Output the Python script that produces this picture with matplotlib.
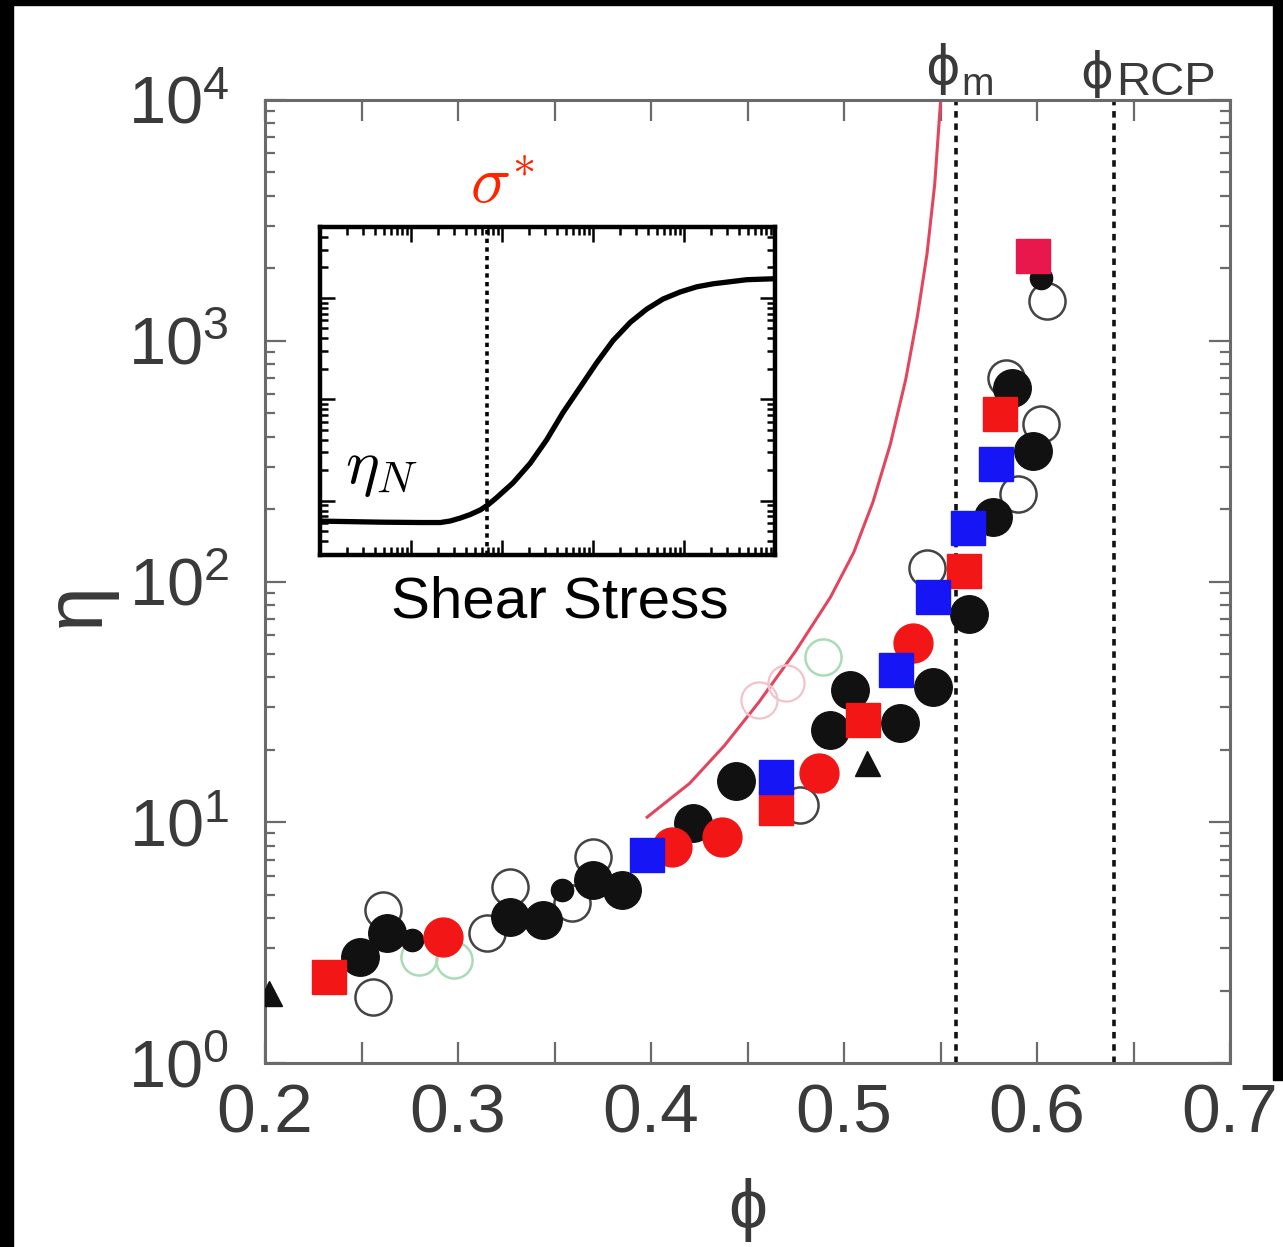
import matplotlib
matplotlib.use('Agg')
import matplotlib.pyplot as plt
from matplotlib.patches import Rectangle
from matplotlib.ticker import MultipleLocator, LogLocator, NullFormatter, FixedLocator
from matplotlib.transforms import blended_transform_factory, offset_copy

plt.rcParams['font.family'] = ['Liberation Sans', 'DejaVu Sans']
plt.rcParams['mathtext.fontset'] = 'custom'
plt.rcParams['mathtext.rm'] = 'Liberation Sans'
plt.rcParams['mathtext.it'] = 'Liberation Sans:italic'
plt.rcParams['mathtext.bf'] = 'Liberation Sans:bold'

# ---------------- data ----------------
phi_m = 0.558
phi_rcp = 0.640

black_phi = [0.249, 0.263, 0.327, 0.344, 0.370, 0.385, 0.422, 0.444, 0.493,
             0.529, 0.503, 0.546, 0.565, 0.577, 0.598, 0.587]
black_eta = [2.75, 3.46, 4.04, 3.92, 5.74, 5.22, 9.91, 14.9, 24.1,
             25.8, 35.3, 36.3, 73.6, 184.5, 350, 638]

small_black_phi = [0.276, 0.354, 0.602]
small_black_eta = [3.24, 5.22, 1824]

tri_phi = [0.202, 0.512]
tri_eta = [1.95, 17.6]

red_circ_phi = [0.292, 0.411, 0.437, 0.487, 0.536]
red_circ_eta = [3.33, 7.87, 8.67, 15.96, 55.3]

red_sq_phi = [0.233, 0.465, 0.510, 0.562, 0.581]
red_sq_eta = [2.28, 11.5, 26.5, 111, 498]

top_sq_phi = [0.598]
top_sq_eta = [2254]

blue_phi = [0.398, 0.465, 0.527, 0.546, 0.564, 0.579]
blue_eta = [7.29, 15.4, 42.8, 85.9, 167.5, 309]

open_phi = [0.256, 0.261, 0.315, 0.327, 0.359, 0.370, 0.477, 0.543,
            0.590, 0.602, 0.584, 0.605]
open_eta = [1.88, 4.32, 3.46, 5.37, 4.61, 7.16, 11.8, 114,
            232, 453, 701, 1466]

faint_pink_phi = [0.456, 0.470]
faint_pink_eta = [32.1, 38.0]
faint_green_phi = [0.280, 0.298, 0.489]
faint_green_eta = [2.75, 2.67, 48.4]

curve_phi = [0.398, 0.420, 0.438, 0.456, 0.475, 0.493, 0.505, 0.515,
             0.524, 0.532, 0.538, 0.543, 0.547, 0.550]
curve_eta = [10.5, 14.5, 20.8, 31.6, 51.5, 86.1, 131.8, 213.8,
             371.5, 691.8, 1259, 2291, 4467, 9772]

# inset: schematic flow curve
inset_stress = [1, 4.6, 12.6, 21, 26.9, 35, 44.7, 58, 70.8, 87, 132, 204,
                309, 468, 724, 1096, 1660, 2570, 3890, 5890, 9120, 13800,
                20900, 49000, 100000]
inset_eta = [6.3, 6.15, 6.1, 6.1, 6.31, 6.76, 7.31, 8.13, 9.18, 10.7, 15.0,
             23.4, 39.8, 74.1, 132, 229, 380, 575, 776, 977, 1148, 1288,
             1380, 1514, 1549]
sigma_star = 69

xticks = [0.2, 0.3, 0.4, 0.5, 0.6, 0.7]
yticks = [1, 10, 100, 1000, 10000]
ytick_labels = [r'$10^{0}$', r'$10^{1}$', r'$10^{2}$', r'$10^{3}$', r'$10^{4}$']

# ---------------- figure ----------------
W, H = 1283, 1247
fig = plt.figure(figsize=(W / 100, H / 100), dpi=100, facecolor='white')


def fx(px):
    return px / W


def fy(py):
    return 1 - py / H


tick_col = '#3a3a3a'
spine_col = '#6a6a6a'

ax = fig.add_axes([fx(265), fy(1063), (1230 - 265) / W, (1063 - 100) / H])
ax.set_zorder(1)
ax.set_xlim(0.2, 0.7)
ax.set_yscale('log')
ax.set_ylim(1, 1e4)
for s in ax.spines.values():
    s.set_color(spine_col)
    s.set_linewidth(2.2)

ax.xaxis.set_major_locator(FixedLocator(xticks))
ax.xaxis.set_minor_locator(MultipleLocator(0.05))
ax.set_xticklabels([f'{v:.1f}' for v in xticks])
ax.yaxis.set_major_locator(FixedLocator(yticks))
ax.set_yticklabels(ytick_labels)
ax.yaxis.set_minor_locator(LogLocator(base=10, subs=range(2, 10)))
ax.yaxis.set_minor_formatter(NullFormatter())

ax.tick_params(which='both', direction='in', top=True, right=True,
               color=spine_col, width=1.6)
ax.tick_params(axis='x', which='both', length=15, labelsize=50,
               labelcolor=tick_col, pad=14)
ax.tick_params(axis='y', which='major', length=15, labelsize=48,
               labelcolor=tick_col, pad=26)
ax.tick_params(axis='y', which='minor', length=7)

ax.set_xlabel('ϕ', fontsize=50, color=tick_col)
ax.xaxis.label.set_va('center')
ax.xaxis.set_label_coords(0.5, (1063 - 1210) / 963)
ax.set_ylabel('η', fontsize=58, color=tick_col)
ax.yaxis.label.set_va('center')
ax.yaxis.set_label_coords((78 - 265) / 965, (1063 - 605) / 963)

# vertical dotted lines
for v in (phi_m, phi_rcp):
    ax.axvline(v, color='#111111', lw=2.6, dashes=(1.8, 1.6), zorder=2)

# red model curve
ax.plot(curve_phi, curve_eta, color='#e3455e', lw=2.2, zorder=2)

# faint ghost symbols
ax.plot(faint_pink_phi, faint_pink_eta, 'o', ms=26, mfc='none',
        mec='#f3c3ca', mew=1.6, zorder=2)
ax.plot(faint_green_phi, faint_green_eta, 'o', ms=26, mfc='none',
        mec='#a9dcb6', mew=1.8, zorder=2)

# data symbols
ax.plot(open_phi, open_eta, 'o', ms=26, mfc='white', mec='#444444',
        mew=1.8, zorder=3)
ax.plot(black_phi, black_eta, 'o', ms=27, mfc='#111111', mec='#111111',
        mew=1, zorder=4)
ax.plot(small_black_phi, small_black_eta, 'o', ms=16, mfc='#111111',
        mec='#111111', zorder=4)
ax.plot(tri_phi, tri_eta, '^', ms=18, mfc='#111111', mec='#111111', zorder=4)
ax.plot(red_circ_phi, red_circ_eta, 'o', ms=28, mfc='#f21616', mec='#f21616',
        zorder=5)
ax.plot(red_sq_phi, red_sq_eta, 's', ms=25, mfc='#f21616', mec='#f21616',
        zorder=5)
ax.plot(top_sq_phi, top_sq_eta, 's', ms=24, mfc='#e8174c', mec='#e8174c',
        zorder=5)
ax.plot(blue_phi, blue_eta, 's', ms=25, mfc='#1515f5', mec='#1515f5',
        zorder=6)

# labels above the axes
tr = blended_transform_factory(ax.transData, fig.transFigure)
ax.text(phi_m, fy(84), 'ϕ', transform=offset_copy(tr, fig=fig, x=4, y=0, units='dots'),
        family='DejaVu Sans', fontsize=38, color=tick_col, ha='right',
        va='baseline', clip_on=False)
ax.text(phi_m, fy(95), 'm', transform=offset_copy(tr, fig=fig, x=5, y=0, units='dots'),
        fontsize=28, color=tick_col, ha='left', va='baseline', clip_on=False)
ax.text(phi_rcp, fy(88), 'ϕ', transform=offset_copy(tr, fig=fig, x=-1, y=0, units='dots'),
        family='DejaVu Sans', fontsize=36, color=tick_col, ha='right',
        va='baseline', clip_on=False)
ax.text(phi_rcp, fy(95), 'RCP', transform=offset_copy(tr, fig=fig, x=2, y=0, units='dots'),
        fontsize=34, color=tick_col, ha='left', va='baseline', clip_on=False)

# ---------------- inset ----------------
box = fig.add_axes([fx(290), fy(633), 505 / W, 483 / H])
box.set_zorder(3)
box.set_facecolor('white')
box.set_xticks([])
box.set_yticks([])
for s in box.spines.values():
    s.set_visible(False)

ins = fig.add_axes([fx(320), fy(555), 455 / W, 328 / H])
ins.set_zorder(4)
ins.set_xscale('log')
ins.set_yscale('log')
ins.set_xlim(1, 1e5)
ins.set_ylim(10 ** 0.465, 10 ** 3.70)
for s in ins.spines.values():
    s.set_color('black')
    s.set_linewidth(3.2)
ins.xaxis.set_major_locator(LogLocator(base=10, numticks=10))
ins.xaxis.set_minor_locator(LogLocator(base=10, subs=range(2, 10), numticks=20))
ins.yaxis.set_major_locator(LogLocator(base=10, numticks=10))
ins.yaxis.set_minor_locator(LogLocator(base=10, subs=range(2, 10), numticks=20))
ins.tick_params(which='both', direction='in', top=True, right=True,
                labelbottom=False, labelleft=False, color='black', width=1.8)
ins.tick_params(which='major', length=11)
ins.tick_params(which='minor', length=6)

ins.plot(inset_stress, inset_eta, color='black', lw=3.8,
         solid_capstyle='butt', solid_joinstyle='round')
ins.axvline(sigma_star, color='black', lw=2.6, dashes=(1.2, 1.2))

ins.set_xlabel('Shear Stress', fontsize=42, color='black')
ins.xaxis.label.set_va('baseline')
ins.xaxis.set_label_coords((560 - 320) / 455, (555 - 617) / 328)

fig.text(fx(502), fy(203), r'$\sigma^{*}$', math_fontfamily='cm',
         color='#ff2400', fontsize=48, ha='center', va='baseline', zorder=10)
fig.text(fx(345), fy(483), r'$\eta_N$', math_fontfamily='cm',
         color='black', fontsize=46, ha='left', va='baseline', zorder=10)

# black image border
fig.patches.append(Rectangle((0, 0), fx(13), 1, transform=fig.transFigure,
                             color='black', zorder=20))
fig.patches.append(Rectangle((0, fy(5)), 1, 5 / H, transform=fig.transFigure,
                             color='black', zorder=20))
fig.patches.append(Rectangle((fx(1273), fy(1080)), 10 / W, 1080 / H,
                             transform=fig.transFigure, color='black', zorder=20))

fig.savefig('out.png', dpi=100, facecolor='white')
